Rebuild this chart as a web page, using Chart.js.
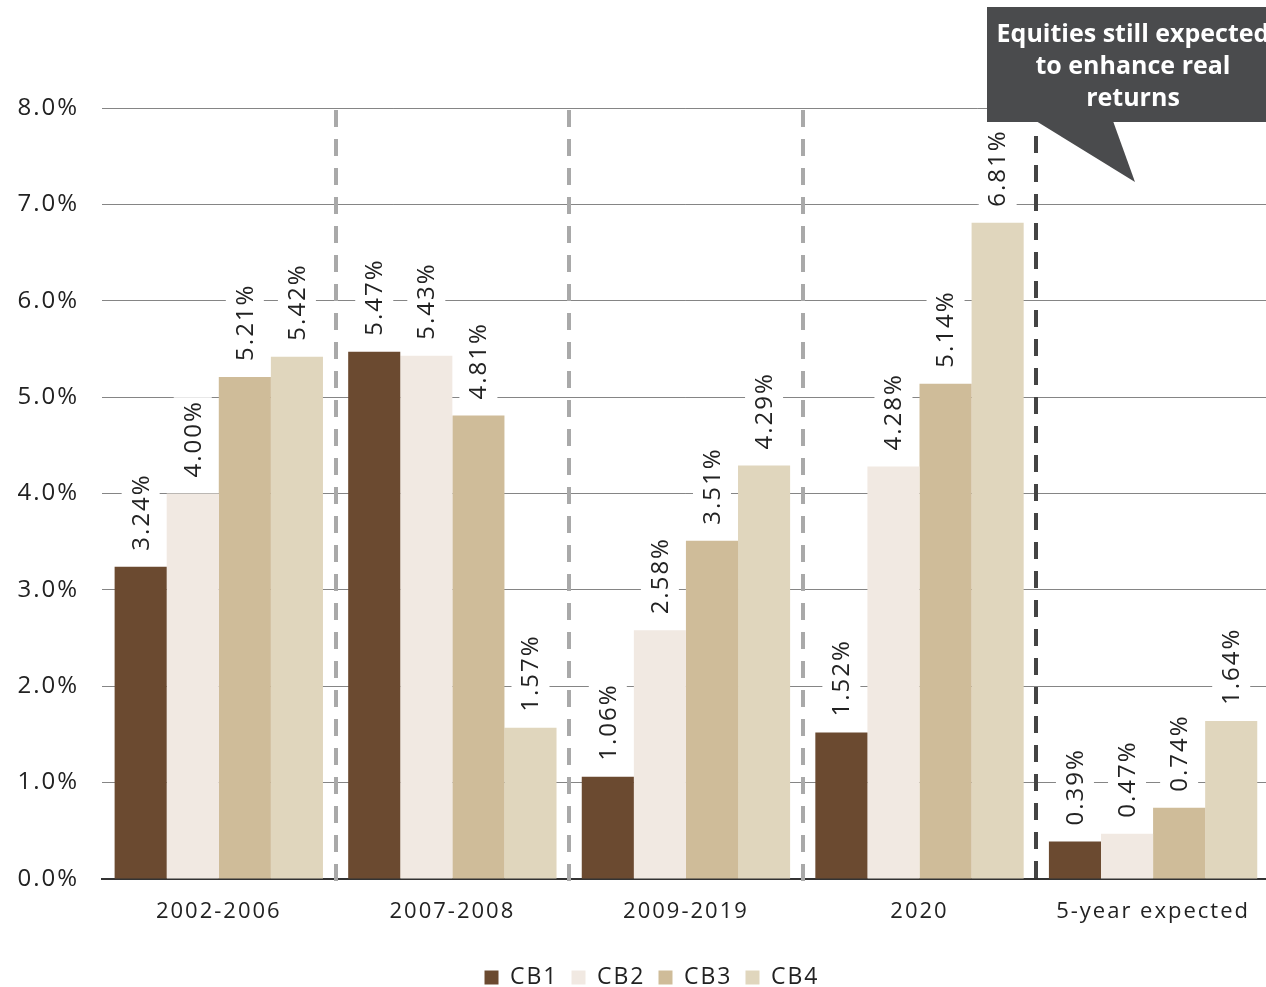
<!DOCTYPE html>
<html>
<head>
<meta charset="utf-8">
<script src="https://cdn.jsdelivr.net/npm/chart.js@4.4.1/dist/chart.umd.min.js"></script>
<style>
  html, body { margin: 0; padding: 0; background: #fff; overflow: hidden; }
  #wrap { position: relative; width: 1270px; height: 999px; }
</style>
</head>
<body>
<div id="wrap"><canvas id="chart"></canvas></div>
<script>
// Real returns by period and cash-bond segment
const categories = ['2002-2006', '2007-2008', '2009-2019', '2020', '5-year expected'];
const cb1 = [3.24, 5.47, 1.06, 1.52, 0.39];
const cb2 = [4.00, 5.43, 2.58, 4.28, 0.47];
const cb3 = [5.21, 4.81, 3.51, 5.14, 0.74];
const cb4 = [5.42, 1.57, 4.29, 6.81, 1.64];
const seriesNames = ['CB1', 'CB2', 'CB3', 'CB4'];
const seriesColors = ['#6b4a30', '#f1e9e2', '#cfbc99', '#e0d6bd'];
const yTicks = [0, 1, 2, 3, 4, 5, 6, 7, 8];
const calloutLines = ['Equities still expected', 'to enhance real', 'returns'];

const FONT = "'Open Sans', 'Noto Sans', sans-serif";
const TRACKING = '2px';

// Airy letter spacing for all chart text (re-applied after canvas resets)
const tracking = {
  id: 'tracking',
  beforeLayout(chart) { chart.ctx.letterSpacing = TRACKING; },
  afterLayout(chart) {
    // nudge the legend row slightly right of centre
    chart.legend.left += 17;
    chart.legend.right += 17;
  },
  beforeDraw(chart) { chart.ctx.letterSpacing = TRACKING; }
};

// Vertical value labels above each bar, on a white backing
const valueLabels = {
  id: 'valueLabels',
  afterDatasetsDraw(chart) {
    const ctx = chart.ctx;
    ctx.save();
    ctx.font = `24px ${FONT}`;
    ctx.textBaseline = 'middle';
    ctx.textAlign = 'left';
    chart.data.datasets.forEach((ds, di) => {
      const meta = chart.getDatasetMeta(di);
      meta.data.forEach((bar, i) => {
        const txt = ds.data[i].toFixed(2) + '%';
        const w = ctx.measureText(txt).width;
        ctx.save();
        ctx.translate(bar.x, bar.y - 16);
        ctx.rotate(-Math.PI / 2);
        ctx.fillStyle = '#ffffff';
        ctx.fillRect(-3, -19, w + 6, 38);
        ctx.fillStyle = '#222222';
        ctx.fillText(txt, 0, 1);
        ctx.restore();
      });
    });
    ctx.restore();
  }
};

// Dashed separators between periods and the callout box
const separators = {
  id: 'separators',
  afterDraw(chart) {
    const ctx = chart.ctx;
    const xs = chart.scales.x;
    const area = chart.chartArea;
    const step = xs.getPixelForValue(1) - xs.getPixelForValue(0);
    ctx.save();
    ctx.lineWidth = 4;
    ctx.setLineDash([17, 12]);
    for (let i = 0; i < categories.length - 1; i++) {
      const x = Math.round(xs.getPixelForValue(i) + step / 2);
      const last = i === categories.length - 2;
      ctx.strokeStyle = last ? '#444444' : '#a9a9a9';
      ctx.beginPath();
      ctx.moveTo(x, last ? area.top + 28 : area.top + 2);
      ctx.lineTo(x, area.bottom + 8);
      ctx.stroke();
    }
    ctx.restore();

    // callout
    ctx.save();
    ctx.letterSpacing = '0px';
    ctx.fillStyle = '#4a4b4d';
    ctx.fillRect(987, 7, 300, 115);
    ctx.beginPath();
    ctx.moveTo(1036, 121);
    ctx.lineTo(1113, 121);
    ctx.lineTo(1135, 182);
    ctx.closePath();
    ctx.fill();
    ctx.fillStyle = '#ffffff';
    ctx.font = `bold 25px ${FONT}`;
    ctx.textAlign = 'center';
    ctx.textBaseline = 'middle';
    calloutLines.forEach((l, k) => ctx.fillText(l, 1133, 35 + k * 32));
    ctx.restore();
  }
};

new Chart(document.getElementById('chart'), {
  type: 'bar',
  data: {
    labels: categories,
    datasets: [cb1, cb2, cb3, cb4].map((d, k) => ({
      label: seriesNames[k],
      data: d,
      backgroundColor: seriesColors[k],
      borderWidth: 0,
      categoryPercentage: 0.892,
      barPercentage: 1.0
    }))
  },
  options: {
    responsive: true,
    maintainAspectRatio: false,
    animation: false,
    layout: { padding: { top: 108, right: 0, left: 0, bottom: 0 } },
    plugins: {
      tooltip: { enabled: false },
      legend: {
        position: 'bottom',
        labels: {
          boxWidth: 14,
          boxHeight: 14,
          padding: 13,
          color: '#222222',
          font: { family: FONT, size: 23 }
        }
      }
    },
    scales: {
      x: {
        grid: { display: false, drawTicks: false },
        border: { display: true, color: '#333333', width: 2 },
        ticks: { color: '#222222', padding: 20, font: { family: FONT, size: 22 } },
        afterFit: s => { s.height = 74; }
      },
      y: {
        min: 0,
        max: 8,
        afterBuildTicks: s => { s.ticks = yTicks.map(v => ({ value: v })); },
        grid: { color: '#858585', lineWidth: 1, drawTicks: false },
        border: { display: false },
        ticks: {
          color: '#222222',
          padding: 23,
          font: { family: FONT, size: 24 },
          callback: v => v.toFixed(1) + '%'
        },
        afterFit: s => { s.width = 102; }
      }
    }
  },
  plugins: [tracking, valueLabels, separators]
});
</script>
</body>
</html>
